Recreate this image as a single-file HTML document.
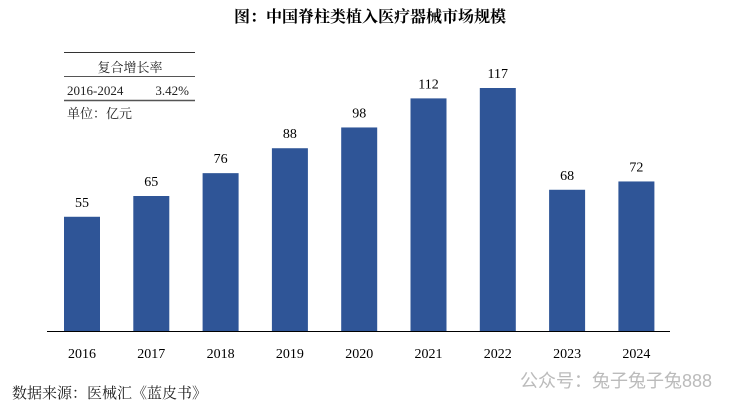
<!DOCTYPE html>
<html><head><meta charset="utf-8"><style>
body{margin:0;background:#fff;width:740px;height:405px;overflow:hidden;font-family:"Liberation Serif","Noto Serif CJK SC",serif}
</style></head><body>
<svg width="740" height="405" xmlns="http://www.w3.org/2000/svg">
<text x="370" y="22" text-anchor="middle" font-size="16" font-weight="bold" font-family="'Liberation Serif','Noto Serif CJK SC',serif">图：中国脊柱类植入医疗器械市场规模</text>
<g font-family="'Liberation Serif','Noto Serif CJK SC',serif" font-size="13" fill="#222">
<line x1="64" y1="52.5" x2="195" y2="52.5" stroke="#333" stroke-width="1"/>
<text x="130" y="72" text-anchor="middle">复合增长率</text>
<line x1="64" y1="76.5" x2="195" y2="76.5" stroke="#555" stroke-width="1"/>
<text x="67" y="95">2016-2024</text>
<text x="189" y="95" text-anchor="end">3.42%</text>
<line x1="64" y1="100.5" x2="195" y2="100.5" stroke="#555" stroke-width="1.5"/>
<text x="67" y="118">单位：亿元</text>
</g>
<g id="bars"></g>
<line x1="47" y1="331.5" x2="670" y2="331.5" stroke="#000" stroke-width="1"/>
<text x="12" y="398" font-size="15" font-family="'Liberation Serif','Noto Serif CJK SC',serif" fill="#222">数据来源：医械汇《蓝皮书》</text>
<text x="520" y="387" font-size="18" font-family="'Liberation Sans','Noto Sans CJK SC',sans-serif" fill="#bbb">公众号：兔子兔子兔888</text>
</svg>
<script>
const categories=["2016","2017","2018","2019","2020","2021","2022","2023","2024"];
const values=[55,65,76,88,98,112,117,68,72];
const g=document.getElementById('bars');
const NS="http://www.w3.org/2000/svg";
const x0=82, step=69.3, bw=36, base=331, scale=243/117;
const xPos=i=>x0+i*step;
const yPos=v=>base-v*scale;
categories.forEach((c,i)=>{
  const r=document.createElementNS(NS,'rect');
  r.setAttribute('x',xPos(i)-bw/2);r.setAttribute('y',yPos(values[i]));
  r.setAttribute('width',bw);r.setAttribute('height',base-yPos(values[i]));
  r.setAttribute('fill','#2f5597');
  
  
  g.appendChild(r);
  const t=document.createElementNS(NS,'text');
  t.setAttribute('x',xPos(i));t.setAttribute('y',yPos(values[i])-10);
  t.setAttribute('text-anchor','middle');t.setAttribute('font-size','14');
  t.textContent=values[i];
  
  
  g.appendChild(t);
  const l=document.createElementNS(NS,'text');
  l.setAttribute('x',xPos(i));l.setAttribute('y',358);
  l.setAttribute('text-anchor','middle');l.setAttribute('font-size','14');
  l.textContent=c;
  
  
  g.appendChild(l);
});
</script>
</body></html>
